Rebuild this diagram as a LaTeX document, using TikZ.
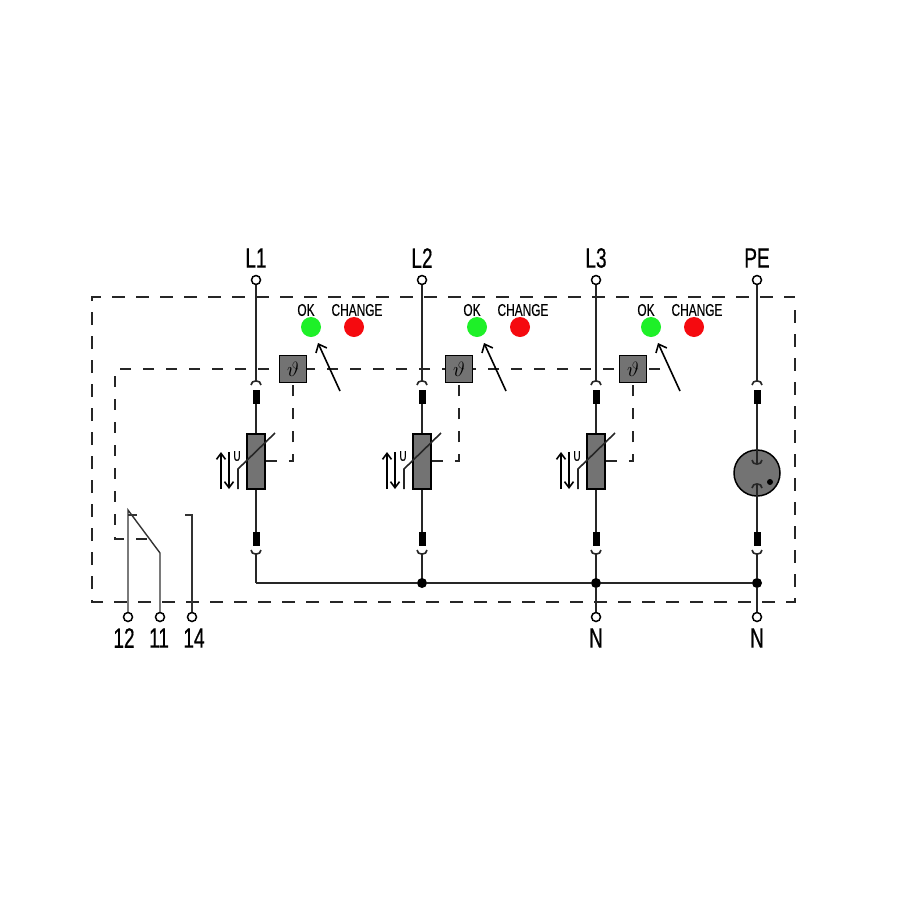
\documentclass[tikz,border=0pt]{standalone}
\usepackage{fontspec}
\usetikzlibrary{arrows.meta}
\newfontfamily\narrowfont[FakeStretch=0.68,FakeBold=0.5]{Liberation Sans}
\newfontfamily\ledfont[FakeStretch=0.7,FakeBold=0.2]{Liberation Sans}

\tikzset{
    wire/.style={line width=1.6pt,black!85},
    thinwire/.style={line width=1.4pt,black!80},
    housing/.style={line width=1.6pt,black!85,dash pattern=on 13pt off 11pt},
    ctrl/.style={line width=1.1pt,black!85,dash pattern=on 11pt off 12pt},
    terminal/.style={circle,draw,line width=1.5pt,fill=white,inner sep=0pt,minimum size=9pt},
    junction/.style={circle,fill=black,inner sep=0pt,minimum size=10pt},
    block/.style={rectangle,fill=black,inner sep=0pt,minimum width=7pt,minimum height=14pt},
    thermo/.style={rectangle,draw,line width=1.5pt,fill=black!55,inner sep=0pt,minimum size=27pt,font=\huge},
    varistor/.style={rectangle,draw,line width=1.5pt,fill=black!55,inner sep=0pt,minimum width=18pt,minimum height=55pt},
    lamp/.style={circle,inner sep=0pt,minimum size=20pt},
    biglabel/.style={font=\narrowfont\fontsize{28}{28}\selectfont,inner sep=0pt},
    ledlabel/.style={font=\ledfont\fontsize{17}{17}\selectfont,inner sep=0pt},
    pointer/.style={line width=1.6pt,-{Straight Barb[length=7pt,width=12pt]}},
    volt/.style={line width=1.6pt,-{Straight Barb[length=6pt,width=9pt]}}
}
\definecolor{okgreen}{RGB}{30,240,40}
\definecolor{changered}{RGB}{245,10,15}

% small arcs of the plug contacts
\newcommand{\plugtop}[2]{\draw[wire] (#1-5,#2+2) .. controls (#1-5,#2-3.5) and (#1+5,#2-3.5) .. (#1+5,#2+2);}
\newcommand{\plugbot}[2]{\draw[wire] (#1-5,#2-2) .. controls (#1-5,#2+3.5) and (#1+5,#2+3.5) .. (#1+5,#2-2);}

\begin{document}
\begin{tikzpicture}[x=1pt,y=-1pt]
    \useasboundingbox (0,0) rectangle (900,900);

    % Housing
    \draw[housing] (795,310) -- (795,602) -- (92,602) -- (92,297) -- (795,297);

    % Control line to the relay
    \coordinate (ctrlEnd) at (660,369);
    \coordinate (ctrlCorner) at (115,369);
    \coordinate (ctrlFoot) at (115,539);
    \coordinate (ctrlRelay) at (153,539);
    \draw[ctrl] (ctrlEnd) -- (ctrlCorner) -- (ctrlFoot) -- (ctrlRelay);

    % Phases
    \foreach \n/\x in {L1/256,L2/422,L3/596}{
        \node[terminal] (t\n) at (\x,280) {};
        \node[biglabel] (lab\n) at (\x,258) {\n};
        \node[block] (up\n) at (\x,397) {};
        \node[block] (low\n) at (\x,539) {};
        \node[varistor] (var\n) at (\x,461.5) {};
        \coordinate (capUp\n) at (\x,381);
        \coordinate (capLow\n) at (\x,553);
        \coordinate (bus\n) at (\x,583);
        \draw[wire] (t\n) -- (capUp\n);
        \plugtop{\x}{383}
        \draw[wire] (up\n) -- (var\n);
        \draw[wire] (var\n) -- (low\n);
        \plugbot{\x}{552}
        \draw[wire] (capLow\n) -- (bus\n);

        % Varistor curve and voltage arrows
        \draw[wire] (\x-18,489) -- (\x-18,469) -- (\x+19,433);
        \draw[volt] (\x-35,489) -- (\x-35,452);
        \draw[volt] (\x-27,452) -- (\x-27,489);
        \node[font=\ledfont\fontsize{14}{14}\selectfont,inner sep=0pt] (u\n) at (\x-19,456) {U};

        % Thermal release
        \coordinate (ctrlVar\n) at (\x+37,461);
        \node[thermo] (th\n) at (\x+37,369) {$\vartheta$};
        \draw[ctrl] (var\n.east |- ctrlVar\n) -- (ctrlVar\n) -- (th\n);

        % Indicator
        \node[lamp,fill=okgreen] (ok\n) at (\x+55,327) {};
        \node[lamp,fill=changered] (ch\n) at (\x+98,327) {};
        \node[ledlabel] (okLab\n) at (\x+50,310) {OK};
        \node[ledlabel] (chLab\n) at (\x+101,310) {CHANGE};
        \coordinate (needle\n) at (\x+84,391);
        \coordinate (needleTip\n) at (\x+62,343);
        \draw[pointer] (needle\n) -- (needleTip\n);
    }

    % PE path
    \node[terminal] (tPE) at (757,280) {};
    \node[biglabel] (labPE) at (757,258) {PE};
    \node[block] (upPE) at (757,397) {};
    \node[block] (lowPE) at (757,539) {};
    \node[circle,draw,line width=1.5pt,fill=black!55,inner sep=0pt,minimum size=46pt] (gap) at (757,473) {};
    \coordinate (capUpPE) at (757,381);
    \coordinate (capLowPE) at (757,553);
    \coordinate (gapUp) at (757,463);
    \coordinate (gapLow) at (757,484);
    \draw[wire] (tPE) -- (capUpPE);
    \plugtop{757}{383}
    \draw[wire] (upPE) -- (gapUp);
    \plugbot{757}{462}
    \plugtop{757}{486}
    \draw[wire] (gapLow) -- (lowPE);
    \plugbot{757}{552}
    \node[circle,fill=black,inner sep=0pt,minimum size=6pt] (gapDot) at (770,482) {};

    % Bus
    \node[junction] (busL2dot) at (422,583) {};
    \node[junction] (busL3dot) at (596,583) {};
    \node[junction] (busPE) at (757,583) {};
    \draw[wire] (capLowPE) -- (busPE);
    \draw[wire] (busL1) -- (busL2dot) -- (busL3dot) -- (busPE);

    % N terminals
    \node[terminal] (tN1) at (596,617) {};
    \node[terminal] (tN2) at (757,617) {};
    \node[biglabel] (labN1) at (596,638) {N};
    \node[biglabel] (labN2) at (757,638) {N};
    \draw[wire] (busL3dot) -- (tN1);
    \draw[wire] (busPE) -- (tN2);

    % Relay contact
    \node[terminal] (t12) at (128,617) {};
    \node[terminal] (t11) at (160,617) {};
    \node[terminal] (t14) at (192,617) {};
    \node[biglabel] (lab12) at (124,638) {12};
    \node[biglabel] (lab11) at (159,638) {11};
    \node[biglabel] (lab14) at (194,638) {14};
    \coordinate (pivot) at (129,510);
    \coordinate (blade) at (160,553);
    \coordinate (stop12) at (137,515);
    \coordinate (stop14) at (185,515);
    \draw[thinwire] (t12) -- (t12 |- pivot) -- (blade) -- (t11);
    \draw[thinwire] (t12 |- stop12) -- (stop12);
    \draw[thinwire] (stop14) -- (t14 |- stop14) -- (t14);
\end{tikzpicture}
\end{document}
